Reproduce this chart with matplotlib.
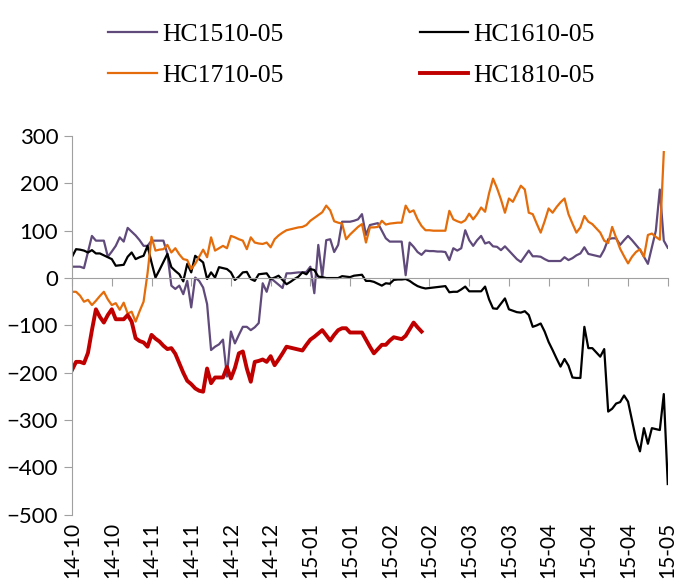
import numpy as np
import matplotlib
matplotlib.use("Agg")
import matplotlib.pyplot as plt

# tick labels, one every 10 trading days
tick_labels = ["14-10", "14-10", "14-11", "14-11", "14-12", "14-12", "15-01", "15-01",
               "15-02", "15-02", "15-03", "15-03", "15-04", "15-04", "15-04", "15-05"]
tick_step = 10

hc1510 = [24, 24, 24, 21, 55, 89, 79, 79, 79, 45, 56, 68, 86, 77, 106, 98, 90, 80, 68, 68,
          79, 79, 79, 79, 51, -16, -23, -16, -34, -6, -62, 1, -6, -20, -55, -152, -145, -140, -130, -208,
          -113, -138, -120, -103, -103, -110, -104, -95, -11, -29, 0, -7, -14, -21, 10, 10, 11, 12, 12, 13,
          24, -32, 70, 3, 80, 82, 55, 70, 119, 119, 119, 121, 124, 135, 91, 112, 114, 116, 100, 84,
          77, 77, 77, 77, 6, 75, 66, 55, 49, 58, 57, 57, 56, 56, 55, 38, 63, 58, 63, 101,
          80, 68, 80, 89, 73, 76, 67, 66, 59, 67, 58, 49, 40, 34, 46, 58, 46, 46, 45, 40,
          36, 36, 36, 36, 44, 38, 42, 48, 52, 65, 51, 49, 47, 45, 60, 82, 84, 84, 70, 80,
          89, 80, 70, 60, 45, 30, 65, 100, 187, 79, 64]

hc1610 = [45, 61, 60, 58, 54, 59, 52, 52, 48, 44, 40, 26, 27, 28, 45, 54, 40, 44, 47, 68,
          33, 1, 17, 34, 51, 23, 15, 8, -7, 30, 12, 47, 40, 33, -2, 12, 1, 23, 21, 19,
          12, -4, 3, 12, 13, -2, -6, 8, 9, 10, -2, 1, 5, -4, -13, -8, -2, 3, 12, 8,
          19, 17, 3, 2, 0, 0, 0, 0, 4, 3, 2, 5, 6, 7, -6, -6, -8, -12, -16, -11,
          -12, -4, -3, -3, -2, -6, -12, -17, -20, -22, -21, -20, -19, -18, -17, -30, -29, -29, -24, -18,
          -28, -28, -28, -28, -18, -45, -64, -65, -54, -43, -66, -69, -72, -73, -70, -78, -103, -100, -96, -113,
          -135, -152, -170, -187, -171, -185, -210, -211, -211, -103, -148, -148, -157, -166, -150, -282, -276, -265, -262, -248,
          -261, -300, -340, -366, -317, -350, -317, -319, -321, -245, -435]

hc1710 = [-29, -29, -37, -50, -46, -57, -48, -38, -29, -45, -57, -53, -67, -52, -75, -71, -92, -70, -50, 10,
          87, 58, 60, 61, 70, 54, 63, 50, 40, 38, 19, 30, 45, 60, 44, 86, 58, 63, 68, 63,
          89, 86, 82, 79, 61, 86, 75, 73, 72, 75, 65, 82, 90, 96, 101, 103, 105, 107, 108, 112,
          121, 127, 133, 139, 153, 143, 120, 117, 115, 82, 92, 100, 108, 114, 75, 107, 107, 108, 121, 113,
          115, 116, 117, 117, 153, 139, 143, 124, 110, 101, 101, 100, 100, 100, 100, 142, 124, 120, 117, 122,
          136, 124, 135, 149, 140, 179, 210, 190, 166, 138, 168, 161, 178, 195, 187, 138, 135, 115, 96, 120,
          147, 138, 150, 160, 168, 135, 115, 96, 107, 131, 119, 114, 105, 96, 79, 74, 108, 85, 62, 46,
          31, 45, 55, 61, 45, 91, 94, 87, 81, 266, np.nan]

hc1810 = [-194, -177, -177, -180, -158, -110, -66, -82, -94, -78, -66, -87, -87, -87, -78, -92, -127, -133, -136, -145,
          -120, -128, -134, -143, -150, -148, -160, -180, -200, -217, -224, -233, -238, -240, -191, -222, -210, -210, -210, -188,
          -212, -190, -159, -155, -191, -219, -177, -175, -172, -177, -165, -184, -172, -159, -145, -147, -149, -151, -153, -141,
          -130, -124, -117, -110, -121, -132, -120, -110, -106, -106, -115, -115, -115, -115, -130, -145, -159, -150, -141, -141,
          -132, -125, -127, -129, -122, -108, -94, -104, -113]

x = np.arange(len(hc1610))

fig = plt.figure(figsize=(6.8, 5.85), dpi=100)
ax = fig.add_axes([0.106, 0.12, 0.876, 0.6475])

l1, = ax.plot(x, hc1510, color="#604A7B", lw=1.6, label="HC1510-05")
l2, = ax.plot(x, hc1610, color="black", lw=1.6, label="HC1610-05")
l3, = ax.plot(x, hc1710, color="#E46C0A", lw=1.6, label="HC1710-05")
l4, = ax.plot(np.arange(len(hc1810)), hc1810, color="#C00000", lw=2.8, label="HC1810-05")

ax.set_xlim(0, len(x) - 1)
ax.set_ylim(-500, 300)
ax.set_yticks(range(-500, 301, 100))

for s in ["top", "right"]:
    ax.spines[s].set_visible(False)
ax.spines["left"].set_color("#A0A0A0")
ax.spines["bottom"].set_color("#A0A0A0")
ax.spines["bottom"].set_position(("data", 0))

ticks = np.arange(len(tick_labels)) * tick_step
ax.set_xticks(ticks)
ax.tick_params(axis="x", direction="out", length=6, color="#A0A0A0", labelbottom=False)
ax.tick_params(axis="y", direction="out", length=6, color="#A0A0A0", labelsize=16, pad=4)
for lab in ax.get_yticklabels():
    lab.set_family("Lato")

sec = ax.secondary_xaxis(0.0)
sec.set_xticks(ticks)
sec.set_xticklabels(tick_labels, rotation=90, family="Lato", fontsize=15)
sec.tick_params(length=0, pad=5)
sec.spines["bottom"].set_visible(False)

# column-wise fill: 1510 / 1710 in first column, 1610 / 1810 in second
fig.legend(handles=[l1, l3, l2, l4], loc="upper left", bbox_to_anchor=(0.125, 1.0),
           ncol=2, frameon=False, prop={"family": "Liberation Serif", "size": 18.5},
           handlelength=1.9, handletextpad=0.2, columnspacing=5.3, labelspacing=0.7)

fig.savefig("out.png", dpi=100)
